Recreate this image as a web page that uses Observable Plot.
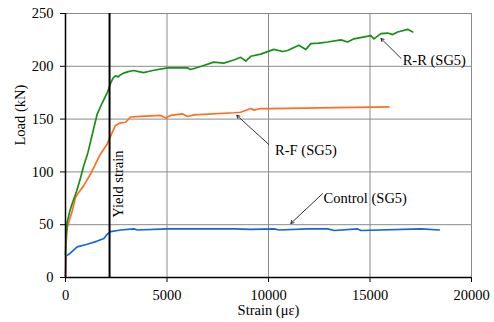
<!DOCTYPE html>
<html>
<head>
<meta charset="utf-8">
<script src="https://cdn.jsdelivr.net/npm/d3@7"></script>
<script src="https://cdn.jsdelivr.net/npm/@observablehq/plot@0.6"></script>
<style>
  html, body { margin: 0; padding: 0; background: white; }
  svg, svg text { font-family: "Liberation Serif", "Times New Roman", serif !important; }
</style>
</head>
<body>
<div id="chart"></div>
<script>
// Tick values
const xTicks = [0, 5000, 10000, 15000, 20000];
const yTicks = [0, 50, 100, 150, 200, 250];

// R-R (SG5) – green
const rrStrain = [0, 30, 80, 200, 330, 550, 750, 900, 1100, 1300, 1564, 1800, 2057, 2220, 2350, 2467, 2600, 2713, 2860, 3100, 3355, 3600, 3848, 4300, 5017, 6004, 6167, 6700, 7300, 7800, 8290, 8633, 8880, 9126, 9620, 10261, 10690, 10937, 11495, 11840, 12087, 12482, 12911, 13567, 13897, 14208, 15047, 15195, 15540, 15870, 16117, 16364, 16857, 17104];
const rrLoad   = [22, 40, 52, 62, 70, 82, 95, 106, 118, 134, 155, 165, 175, 184, 189, 191, 190, 192, 193.5, 195, 196, 195, 194, 196, 198.5, 198.5, 197, 200, 204, 203, 206, 208.5, 205, 209.5, 211.5, 216, 214, 215, 220, 216, 221.5, 222, 223, 225, 223, 226, 229, 226, 231, 231.5, 230, 232.5, 235, 232.5];

// R-F (SG5) – orange
const rfStrain = [0, 10, 40, 84, 200, 330, 493, 700, 900, 1233, 1564, 1727, 2057, 2200, 2304, 2467, 2713, 2960, 3207, 3700, 4687, 4934, 5180, 5757, 6004, 6330, 8290, 8633, 9126, 9275, 9620, 10015, 15935];
const rfLoad   = [0, 22, 35, 47, 55, 63, 76, 82, 87, 98, 111, 117, 126.5, 133, 137.5, 144, 146.5, 147, 152, 152.5, 153.5, 151, 153.5, 155, 152.5, 154, 156, 156.5, 160, 158.5, 160, 160, 161.5];

// Control (SG5) – blue
const ctStrain = [0, 35, 163, 577, 1071, 1564, 1890, 2057, 2220, 2713, 3370, 3537, 5017, 8305, 9126, 10277, 10523, 11924, 12911, 13240, 14392, 14554, 17514, 18417];
const ctLoad   = [0, 20.5, 22, 29, 31.5, 34.5, 37, 41, 43.5, 45, 46, 45, 46, 46, 45.5, 46, 45, 46, 46, 44.5, 46, 44.5, 46, 45];

// Yield strain
const yieldStrain = 2170;
const yieldLabel = "Yield strain";

// Annotations
const annoText = ["R-R (SG5)", "R-F (SG5)", "Control (SG5)"];
const annoX = [16611, 10326, 12713];
const annoY = [205.7, 120.3, 74.7];
const arrowX1 = [16527, 10015, 12664];
const arrowY1 = [207.6, 126, 79.4];
const arrowX2 = [15540, 8436, 11100];
const arrowY2 = [226.3, 153.5, 51.2];

const rr = rrStrain.map((s, i) => ({s, l: rrLoad[i]}));
const rf = rfStrain.map((s, i) => ({s, l: rfLoad[i]}));
const ct = ctStrain.map((s, i) => ({s, l: ctLoad[i]}));
const anno = annoText.map((t, i) => ({t, x: annoX[i], y: annoY[i], x1: arrowX1[i], y1: arrowY1[i], x2: arrowX2[i], y2: arrowY2[i]}));

const gridColor = "#8a8a8a";
const serif = "Liberation Serif";

const chart = Plot.plot({
  width: 494,
  height: 322,
  marginLeft: 65,
  marginRight: 23,
  marginTop: 13,
  marginBottom: 45,
  style: {fontFamily: serif, fontSize: "14.5px", background: "white", color: "black"},
  x: {domain: [0, 20000]},
  y: {domain: [0, 250]},
  marks: [
    Plot.gridX(xTicks.slice(1), {stroke: gridColor, strokeOpacity: 1, strokeWidth: 1}),
    Plot.gridY(yTicks.slice(1), {stroke: gridColor, strokeOpacity: 1, strokeWidth: 1}),
    Plot.line(ct, {x: "s", y: "l", stroke: "#1466dc", strokeWidth: 1.7}),
    Plot.line(rf, {x: "s", y: "l", stroke: "#ff6f1e", strokeWidth: 1.7}),
    Plot.line(rr, {x: "s", y: "l", stroke: "#16901a", strokeWidth: 1.7}),
    Plot.ruleX([yieldStrain], {stroke: "black", strokeWidth: 2}),
    Plot.ruleX([0], {stroke: "black", strokeWidth: 1.5}),
    Plot.ruleY([0], {stroke: "black", strokeWidth: 1.5}),
    Plot.axisX(xTicks, {tickSize: 5, tickPadding: 7, label: null, tickFormat: d3.format("d"), fontSize: 14.5, fontFamily: serif}),
    Plot.axisY(yTicks, {tickSize: 5, tickPadding: 7, label: null, tickFormat: d3.format("d"), fontSize: 14.5, fontFamily: serif}),
    Plot.text(["Strain (με)"], {frameAnchor: "bottom", dy: 37, fontSize: 14.5, fontFamily: serif}),
    Plot.text(["Load (kN)"], {frameAnchor: "left", dx: -45, rotate: -90, fontSize: 14.5, fontFamily: serif}),
    Plot.text([yieldLabel], {x: () => 2615, y: () => 56.6, rotate: -90, textAnchor: "start", fontSize: 14.5, fontFamily: serif}),
    Plot.arrow(anno, {x1: "x1", y1: "y1", x2: "x2", y2: "y2", stroke: "black", strokeWidth: 0.8, headLength: 6}),
    Plot.text(anno, {x: "x", y: "y", text: "t", textAnchor: "start", fontSize: 14.5, fontFamily: serif})
  ]
});
document.getElementById("chart").appendChild(chart);
</script>
</body>
</html>
